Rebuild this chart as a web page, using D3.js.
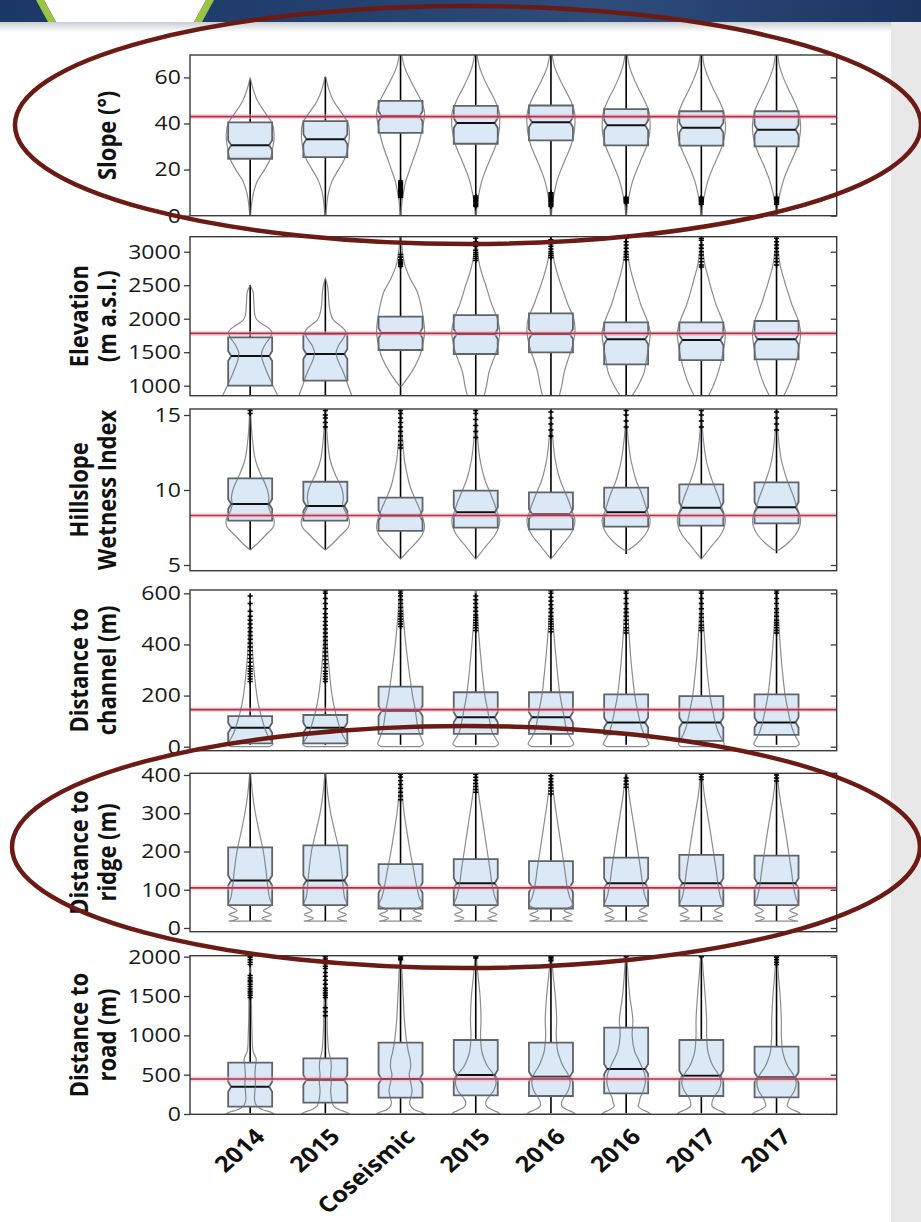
<!DOCTYPE html>
<html><head><meta charset="utf-8">
<script src="https://cdn.jsdelivr.net/npm/d3@7"></script>
<style>body{margin:0;background:#fff;overflow:hidden}svg{display:block}</style>
</head><body>
<svg id="c" width="921" height="1222"></svg>
<script>
// ---------------- DATA ----------------
const categories = ["2014","2015","Coseismic","2015","2016","2016","2017","2017"];

// Slope (°)
const slopeDomain = [0, 69.7];
const slopeTicks = [0, 20, 40, 60];
const slopeRef = 43;
const slopeMin = [0, 0, 0, 0, 0, 0, 0, 0];
const slopeMax = [59, 60.3, 69.7, 69.7, 69.7, 69.7, 69.7, 69.7];
const slopeQ1 = [24.7, 25.4, 35.9, 31.2, 32.7, 30.5, 30.4, 30.1];
const slopeMedian = [30.6, 33.2, 43.1, 40.2, 40.5, 39.2, 38.2, 37.3];
const slopeQ3 = [40.5, 41.0, 49.8, 47.6, 47.8, 46.2, 45.3, 45.3];
const slopeOutliers = [[], [], [15,14.5,14,13.5,13,12.5,12,11.5,11,10.5,10,9.5,9,8.5,8], [8.5,8,7.5,7,6.5,6,5.5,5,4.5,4], [10,9.5,9,8.5,8,7.5,7,6.5,6,5.5,5,4.5,4], [8,7.5,7,6.5,6,5.5], [8,7.5,7,6.5,6,5.5,5], [8,7.5,7,6.5,6,5.5,5]];
const slopeLevels = [0,5,10,15,20,25,30,35,40,45,50,55,60,65,69.7];
const slopeDensity = [
  [0.02,0.06,0.14,0.3,0.6,0.85,0.95,1,0.92,0.6,0.3,0.12,0,null,null],
  [0.02,0.06,0.13,0.28,0.55,0.82,0.95,1,0.95,0.65,0.33,0.14,0.02,null,null],
  [0.02,0.05,0.12,0.22,0.38,0.55,0.72,0.85,0.95,1,0.85,0.6,0.35,0.15,0.05],
  [0.02,0.06,0.14,0.25,0.42,0.62,0.82,0.95,1,0.98,0.8,0.55,0.32,0.14,0.05],
  [0.02,0.06,0.14,0.25,0.42,0.62,0.82,0.95,1,0.98,0.82,0.57,0.33,0.14,0.05],
  [0.02,0.06,0.15,0.27,0.45,0.65,0.85,0.97,1,0.95,0.76,0.52,0.3,0.13,0.05],
  [0.02,0.06,0.15,0.27,0.45,0.66,0.86,0.98,1,0.93,0.74,0.5,0.29,0.12,0.05],
  [0.02,0.06,0.15,0.28,0.46,0.67,0.87,0.98,1,0.92,0.72,0.49,0.28,0.12,0.05]
];

// Elevation (m a.s.l.)
const elevDomain = [851, 3224];
const elevTicks = [1000, 1500, 2000, 2500, 3000];
const elevRef = 1780;
const elevMin = [800, 800, 800, 800, 800, 800, 800, 800];
const elevMax = [2503, 2588, 3224, 3224, 3224, 3224, 3224, 3224];
const elevQ1 = [1000, 1075, 1533, 1473, 1498, 1319, 1383, 1393];
const elevMedian = [1443, 1473, 1785, 1772, 1772, 1692, 1682, 1692];
const elevQ3 = [1722, 1772, 2030, 2055, 2080, 1946, 1946, 1966];
const elevOutliers = [[], [], [2780,2800,2820,2840,2860,2880,2920,2960], [2870,2900,2930,2960,2990,3020,3080,3150,3200], [2910,2940,2970,3000,3040,3080,3120,3180], [2880,2920,2960,3000,3050,3100,3150,3200], [2770,2800,2850,2900,2950,3000,3050,3100,3170,3200], [2800,2850,2900,2950,3000,3050,3100,3150,3200]];
const elevLevels = [851,1000,1200,1400,1500,1600,1800,2000,2200,2400,2500,2600,2800,3000,3224];
const elevDensity = [
  [1.15,0.95,0.7,0.5,0.48,0.6,0.9,0.25,0.16,0.12,0,null,null,null,null],
  [1.1,0.95,0.75,0.5,0.45,0.55,0.85,0.3,0.16,0.12,0.08,0,null,null,null],
  [null,0.05,0.45,0.75,0.85,0.92,1,0.95,0.85,0.7,0.55,0.4,0.18,0.08,0.03],
  [0.35,0.45,0.55,0.75,0.85,0.92,1,0.9,0.68,0.5,0.42,0.32,0.16,0.07,0.02],
  [0.35,0.45,0.55,0.72,0.82,0.9,1,0.95,0.72,0.52,0.42,0.33,0.17,0.07,0.02],
  [0.25,0.5,0.75,0.85,0.9,0.95,1,0.85,0.62,0.45,0.36,0.28,0.14,0.06,0.02],
  [0.3,0.5,0.7,0.85,0.9,0.95,1,0.85,0.62,0.45,0.37,0.3,0.15,0.07,0.02],
  [0.3,0.5,0.7,0.85,0.9,0.95,1,0.88,0.65,0.47,0.38,0.3,0.15,0.07,0.02]
];

// Hillslope Wetness Index
const hwiDomain = [4.62, 15.4];
const hwiTicks = [5, 10, 15];
const hwiRef = 8.3;
const hwiMin = [6.05, 6.05, 5.45, 5.44, 5.44, 5.73, 5.44, 5.78];
const hwiMax = [15.4, 15.4, 15.4, 15.4, 15.4, 15.4, 15.4, 15.4];
const hwiQ1 = [7.96, 7.96, 7.27, 7.49, 7.38, 7.56, 7.62, 7.78];
const hwiMedian = [9.07, 8.93, 8.3, 8.51, 8.4, 8.51, 8.82, 8.85];
const hwiQ3 = [10.78, 10.55, 9.49, 9.96, 9.84, 10.16, 10.38, 10.51];
const hwiOutliers = [[15.1,15.3], [14.2,14.5,14.8,15,15.3], [12.8,13,13.3,13.6,13.9,14.2,14.5,14.8,15.1,15.3], [13.5,13.9,14.3,14.7,15.1,15.3], [13.6,14,14.4,14.8,15.2], [14.2,14.6,15,15.3], [14.2,14.6,15,15.3], [14,14.4,14.8,15.2]];
const hwiLevels = [5.4,6,6.5,7,7.5,8,8.5,9,9.5,10,10.5,11,12,13,14,15.4];
const hwiDensity = [
  [null,0,0.35,0.65,0.95,1,0.85,0.75,0.78,0.72,0.6,0.45,0.22,0.12,0.06,0.02],
  [null,0,0.35,0.65,0.95,1,0.85,0.72,0.75,0.7,0.58,0.42,0.2,0.11,0.06,0.02],
  [0,0.35,0.65,0.9,1,0.95,0.85,0.72,0.58,0.45,0.35,0.28,0.16,0.1,0.05,0.02],
  [0,0.3,0.55,0.8,0.95,1,0.9,0.8,0.68,0.55,0.42,0.32,0.18,0.1,0.05,0.02],
  [0,0.3,0.55,0.8,0.95,1,0.9,0.8,0.68,0.55,0.42,0.32,0.18,0.1,0.05,0.02],
  [null,0.1,0.5,0.78,0.95,1,0.9,0.8,0.7,0.58,0.45,0.35,0.2,0.11,0.05,0.02],
  [0,0.3,0.55,0.8,0.95,1,0.92,0.82,0.72,0.6,0.48,0.37,0.2,0.11,0.05,0.02],
  [null,0.1,0.5,0.78,0.95,1,0.92,0.82,0.72,0.6,0.48,0.37,0.2,0.11,0.05,0.02]
];

// Distance to channel (m)
const chanDomain = [-15.6, 613];
const chanTicks = [0, 200, 400, 600];
const chanRef = 145;
const chanMin = [8, 8, 8, 8, 8, 8, 8, 8];
const chanMax = [593, 613, 613, 592, 613, 613, 613, 613];
const chanQ1 = [13, 13, 50, 50, 50, 48, 23, 46];
const chanMedian = [74, 74, 140, 115, 115, 95, 95, 95];
const chanQ3 = [120, 124, 235, 213, 213, 205, 198, 205];
const chanOutliers = [
  [255,265,275,285,295,305,315,330,345,360,375,390,405,420,435,450,465,480,495,510,530,560,590],
  [255,265,275,285,295,310,325,340,355,370,385,400,415,430,445,460,475,490,505,520,540,560,580,600,610],
  [470,480,490,500,510,520,530,545,560,575,590,600,610],
  [455,465,475,485,495,505,515,530,545,560,575,590],
  [450,460,470,480,490,500,510,525,540,555,570,585,600,610],
  [445,455,465,480,495,510,525,540,560,580,600,610],
  [455,465,475,490,505,520,540,560,580,600,610],
  [445,455,465,475,485,495,510,525,540,560,580,600,610]
];
const chanLevels = [0,10,25,50,75,100,150,200,300,400,500,600,613];
const chanDensity = [
  [0.8,0.95,0.85,0.7,0.6,0.52,0.38,0.28,0.16,0.08,0.04,0,null],
  [0.8,0.95,0.85,0.7,0.6,0.52,0.38,0.28,0.16,0.08,0.04,0.02,0.02],
  [0.8,0.95,0.9,0.8,0.72,0.68,0.6,0.5,0.35,0.22,0.12,0.05,0.03],
  [0.8,0.95,0.88,0.72,0.63,0.58,0.48,0.38,0.26,0.16,0.08,0.03,0.02],
  [0.8,0.95,0.88,0.72,0.63,0.58,0.48,0.38,0.26,0.16,0.08,0.03,0.02],
  [0.8,0.95,0.88,0.74,0.64,0.57,0.46,0.36,0.24,0.15,0.08,0.03,0.02],
  [0.85,0.95,0.88,0.74,0.64,0.57,0.46,0.36,0.24,0.15,0.08,0.03,0.02],
  [0.8,0.95,0.88,0.74,0.64,0.57,0.46,0.36,0.24,0.15,0.08,0.03,0.02]
];

// Distance to ridge (m)
const ridgeDomain = [-9.7, 404.4];
const ridgeTicks = [0, 100, 200, 300, 400];
const ridgeRef = 105;
const ridgeMin = [18, 18, 18, 18, 18, 18, 18, 18];
const ridgeMax = [404.4, 404.4, 404.4, 404.4, 404.4, 404.4, 404.4, 404.4];
const ridgeQ1 = [60, 60, 51, 60, 51, 58, 58, 60];
const ridgeMedian = [124, 124, 105, 117, 107, 117, 117, 117];
const ridgeQ3 = [211, 216, 167, 180, 175, 184, 191, 189];
const ridgeOutliers = [[], [], [335,345,355,365,375,385,395,402], [355,362,370,378,386,394,402], [350,358,366,374,382,390,398], [368,376,384,392], [388,395,402], [384,392,400]];
const ridgeLevels = [18,25,35,45,60,80,100,125,150,200,250,300,350,404.4];
const ridgeDensity = [
  [0.9,0.5,0.88,0.55,0.9,0.8,0.75,0.7,0.66,0.55,0.38,0.22,0.1,0.02],
  [0.9,0.5,0.88,0.55,0.9,0.8,0.75,0.72,0.68,0.58,0.4,0.22,0.1,0.02],
  [0.9,0.5,0.88,0.55,0.9,0.78,0.7,0.62,0.55,0.4,0.27,0.15,0.07,0.02],
  [0.9,0.5,0.88,0.55,0.9,0.8,0.72,0.65,0.6,0.48,0.36,0.24,0.12,0.03],
  [0.9,0.5,0.88,0.55,0.9,0.78,0.7,0.63,0.58,0.46,0.34,0.22,0.11,0.03],
  [0.9,0.5,0.88,0.55,0.9,0.8,0.72,0.66,0.61,0.49,0.37,0.24,0.12,0.03],
  [0.9,0.5,0.88,0.55,0.9,0.8,0.73,0.67,0.62,0.5,0.38,0.25,0.12,0.03],
  [0.9,0.5,0.88,0.55,0.9,0.8,0.73,0.67,0.62,0.5,0.38,0.25,0.12,0.03]
];

// Distance to road (m)
const roadDomain = [-3.8, 2012.7];
const roadTicks = [0, 500, 1000, 1500, 2000];
const roadRef = 445;
const roadMin = [10, 10, 10, 10, 10, 10, 10, 10];
const roadMax = [2013, 2013, 2013, 2013, 2013, 2013, 2013, 2013];
const roadQ1 = [93, 144, 207, 238, 229, 263, 229, 212];
const roadMedian = [347, 432, 445, 496, 475, 572, 487, 467];
const roadQ3 = [653, 708, 907, 941, 907, 1098, 941, 856];
const roadOutliers = [
  [1480,1510,1540,1560,1590,1620,1650,1680,1700,1730,1760,1900,1930,1960,1990,2005],
  [1250,1300,1350,1480,1510,1540,1570,1600,1650,1700,1750,1800,1850,1880,1910,1940,1970,2000,2008],
  [1960,1980,2000,2008], [1985,2000,2008], [1950,1970,1990,2005], [2000], [2000], [1900,1930,1960,1990,2005]
];
const roadLevels = [0,25,50,100,150,200,300,400,500,600,700,800,1000,1200,1500,1800,2013];
const roadDensity = [
  [1,0.85,0.55,0.28,0.2,0.18,0.2,0.22,0.2,0.22,0.25,0.12,0.08,0.06,0.05,0.03,0.02],
  [1,0.85,0.6,0.35,0.28,0.25,0.22,0.25,0.22,0.25,0.22,0.14,0.09,0.07,0.05,0.03,0.02],
  [1,0.85,0.6,0.42,0.38,0.42,0.48,0.42,0.36,0.42,0.4,0.32,0.22,0.16,0.11,0.06,0.03],
  [1,0.9,0.7,0.45,0.42,0.5,0.75,0.85,0.75,0.5,0.35,0.25,0.2,0.22,0.18,0.08,0.03],
  [1,0.9,0.7,0.45,0.45,0.52,0.72,0.8,0.72,0.52,0.38,0.28,0.22,0.24,0.18,0.08,0.03],
  [1,0.9,0.7,0.5,0.55,0.58,0.72,0.8,0.78,0.65,0.5,0.35,0.25,0.28,0.15,0.07,0.03],
  [1,0.9,0.7,0.45,0.45,0.5,0.72,0.82,0.72,0.5,0.36,0.27,0.22,0.22,0.16,0.08,0.03],
  [1,0.9,0.7,0.45,0.48,0.55,0.75,0.82,0.7,0.48,0.34,0.25,0.2,0.2,0.15,0.07,0.03]
];

const titles = [["Slope (°)"], ["Elevation","(m a.s.l.)"], ["Hillslope","Wetness Index"], ["Distance to","channel (m)"], ["Distance to","ridge (m)"], ["Distance to","road (m)"]];

// ---------------- BUILD ----------------
const panels = [
  {domain: slopeDomain, ticks: slopeTicks, ref: slopeRef, min: slopeMin, max: slopeMax, q1: slopeQ1, med: slopeMedian, q3: slopeQ3, out: slopeOutliers, levels: slopeLevels, dens: slopeDensity},
  {domain: elevDomain, ticks: elevTicks, ref: elevRef, min: elevMin, max: elevMax, q1: elevQ1, med: elevMedian, q3: elevQ3, out: elevOutliers, levels: elevLevels, dens: elevDensity},
  {domain: hwiDomain, ticks: hwiTicks, ref: hwiRef, min: hwiMin, max: hwiMax, q1: hwiQ1, med: hwiMedian, q3: hwiQ3, out: hwiOutliers, levels: hwiLevels, dens: hwiDensity},
  {domain: chanDomain, ticks: chanTicks, ref: chanRef, min: chanMin, max: chanMax, q1: chanQ1, med: chanMedian, q3: chanQ3, out: chanOutliers, levels: chanLevels, dens: chanDensity},
  {domain: ridgeDomain, ticks: ridgeTicks, ref: ridgeRef, min: ridgeMin, max: ridgeMax, q1: ridgeQ1, med: ridgeMedian, q3: ridgeQ3, out: ridgeOutliers, levels: ridgeLevels, dens: ridgeDensity},
  {domain: roadDomain, ticks: roadTicks, ref: roadRef, min: roadMin, max: roadMax, q1: roadQ1, med: roadMedian, q3: roadQ3, out: roadOutliers, levels: roadLevels, dens: roadDensity}
];
const layout = [[55,215.7],[236.7,395.7],[409,570.7],[590,750.7],[773.3,931.7],[955.7,1114.3]];
const LEFT = 190, RIGHT = 836.7, SX = 1.15, BOXW = 22, VW = 24, NOTCH = 3, NOTCHH = 5;
const FONT = "'Open Sans', 'DejaVu Sans', sans-serif";

const svg = d3.select("#c");
const defs = svg.append("defs");

// page decoration
const hg = defs.append("linearGradient").attr("id","hdr").attr("x1","0").attr("x2","1").attr("y1","0").attr("y2","0");
hg.append("stop").attr("offset","0").attr("stop-color","#1b3866");
hg.append("stop").attr("offset","0.35").attr("stop-color","#233f6d");
hg.append("stop").attr("offset","0.65").attr("stop-color","#2f4c7b");
hg.append("stop").attr("offset","1").attr("stop-color","#1b3561");
const sg = defs.append("linearGradient").attr("id","shd").attr("x1","0").attr("x2","0").attr("y1","0").attr("y2","1");
sg.append("stop").attr("offset","0").attr("stop-color","#c9cdd3");
sg.append("stop").attr("offset","1").attr("stop-color","#ffffff");
svg.append("rect").attr("x",0).attr("y",0).attr("width",921).attr("height",1222).attr("fill","#fff");
svg.append("rect").attr("x",0).attr("y",0).attr("width",921).attr("height",22).attr("fill","url(#hdr)");
svg.append("rect").attr("x",0).attr("y",22).attr("width",921).attr("height",10).attr("fill","url(#shd)");
svg.append("polygon").attr("points","44,0 206,0 194,22 56,22").attr("fill","#fff");
svg.append("polygon").attr("points","36,0 44,0 56,22 48,22").attr("fill","#9ac443");
svg.append("polygon").attr("points","206,0 214,0 202,22 194,22").attr("fill","#9ac443");
svg.append("rect").attr("x",891).attr("y",22).attr("width",30).attr("height",1200).attr("fill","#e8e8e8");

const x = d3.scalePoint().domain(d3.range(categories.length)).range([LEFT, RIGHT]).padding(0.8);

panels.forEach((p, pi) => {
  const [top, bottom] = layout[pi];
  const y = d3.scaleLinear().domain(p.domain).range([bottom, top]);
  const clipId = "clip" + pi;
  defs.append("clipPath").attr("id", clipId).append("rect")
    .attr("x", LEFT).attr("y", top).attr("width", RIGHT - LEFT).attr("height", bottom - top);
  const g = svg.append("g").attr("clip-path", `url(#${clipId})`);

  categories.forEach((c, i) => {
    const cx = x(i);
    g.append("line").attr("x1", cx).attr("x2", cx).attr("y1", y(p.min[i])).attr("y2", y(p.max[i]))
      .attr("stroke", "#000").attr("stroke-width", 1.6);
    const yq1 = y(p.q1[i]), yq3 = y(p.q3[i]), ym = y(p.med[i]);
    const n1 = Math.min(yq1, ym + NOTCHH), n3 = Math.max(yq3, ym - NOTCHH);
    const path = d3.path();
    path.moveTo(cx - BOXW, yq1); path.lineTo(cx - BOXW, n1); path.lineTo(cx - BOXW + NOTCH, ym);
    path.lineTo(cx - BOXW, n3); path.lineTo(cx - BOXW, yq3); path.lineTo(cx + BOXW, yq3);
    path.lineTo(cx + BOXW, n3); path.lineTo(cx + BOXW - NOTCH, ym); path.lineTo(cx + BOXW, n1);
    path.lineTo(cx + BOXW, yq1); path.closePath();
    g.append("path").attr("d", path.toString()).attr("fill", "#dbe8f5").attr("stroke", "#5f6468").attr("stroke-width", 1.8);
    g.append("line").attr("x1", cx - BOXW + NOTCH).attr("x2", cx + BOXW - NOTCH).attr("y1", ym).attr("y2", ym)
      .attr("stroke", "#111").attr("stroke-width", 2);
  });

  g.append("line").attr("x1", LEFT).attr("x2", RIGHT).attr("y1", y(p.ref)).attr("y2", y(p.ref))
    .attr("stroke", "#f2aab8").attr("stroke-width", 5).attr("stroke-opacity", 0.5);
  g.append("line").attr("x1", LEFT).attr("x2", RIGHT).attr("y1", y(p.ref)).attr("y2", y(p.ref))
    .attr("stroke", "#b0304a").attr("stroke-width", 1.7);

  categories.forEach((c, i) => {
    const cx = x(i);
    const pts = p.levels.map((v, k) => [v, p.dens[i][k]]).filter(d => d[1] != null);
    const area = d3.area().curve(d3.curveCatmullRom.alpha(0.5))
      .y(d => y(d[0])).x0(d => cx - d[1] * VW).x1(d => cx + d[1] * VW);
    g.append("path").attr("d", area(pts)).attr("fill", "none")
      .attr("stroke", "#6d7176").attr("stroke-opacity", 0.8).attr("stroke-width", 1.2);
    p.out[i].forEach(v => {
      const yy = y(v);
      g.append("path").attr("d", `M${cx-2.6},${yy}H${cx+2.6}M${cx},${yy-2.6}V${yy+2.6}`)
        .attr("stroke", "#000").attr("stroke-width", 1.5);
    });
  });

  svg.append("rect").attr("x", LEFT).attr("y", top).attr("width", RIGHT - LEFT).attr("height", bottom - top)
    .attr("fill", "none").attr("stroke", "#3a3a3a").attr("stroke-width", 1.4);

  const ax = svg.append("g").attr("transform", `translate(${LEFT},0)`)
    .call(d3.axisLeft(y).tickValues(p.ticks).tickSize(6).tickPadding(2).tickFormat(d3.format("d")));
  ax.select(".domain").remove();
  ax.selectAll("line").attr("stroke", "#3a3a3a").attr("stroke-width", 1.3);
  ax.selectAll("text").attr("font-family", FONT).attr("font-size", 20).attr("fill", "#1a1a1a")
    .attr("transform", `scale(${SX},1)`);
  const axr = svg.append("g").attr("transform", `translate(${RIGHT},0)`)
    .call(d3.axisRight(y).tickValues(p.ticks).tickSize(-6).tickFormat(""));
  axr.select(".domain").remove();
  axr.selectAll("line").attr("stroke", "#3a3a3a").attr("stroke-width", 1.3);

  const cy = (top + bottom) / 2;
  const lines = titles[pi];
  const baselines = lines.length === 1 ? [116] : [88, 116];
  lines.forEach((t, k) => {
    svg.append("text").attr("transform", `translate(${baselines[k]},${cy}) scale(${SX},1) rotate(-90)`)
      .attr("text-anchor", "middle").attr("font-family", FONT).attr("font-weight", 700)
      .attr("font-size", 22).attr("fill", "#111").text(t);
  });
});

// x labels
categories.forEach((c, i) => {
  svg.append("text").attr("transform", `translate(${x(i) + 16},1138) scale(${SX},1) rotate(-45)`)
    .attr("text-anchor", "end").attr("font-family", FONT).attr("font-weight", 700)
    .attr("font-size", 22).attr("fill", "#111").text(c);
});

// annotation ellipses
svg.append("ellipse").attr("cx", 468).attr("cy", 125).attr("rx", 453).attr("ry", 119)
  .attr("fill", "none").attr("stroke", "#6b1a14").attr("stroke-width", 4.5);
svg.append("ellipse").attr("cx", 466).attr("cy", 847).attr("rx", 454).attr("ry", 121)
  .attr("fill", "none").attr("stroke", "#6b1a14").attr("stroke-width", 4.5);
</script>
</body></html>
